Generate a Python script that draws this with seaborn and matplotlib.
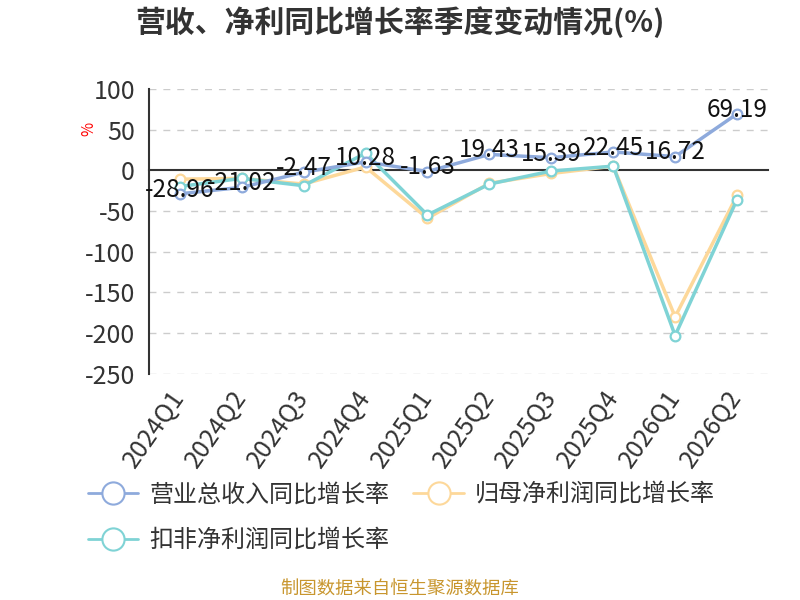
import numpy as np
import pandas as pd
import matplotlib
matplotlib.use("Agg")
import matplotlib.pyplot as plt
import seaborn as sns

QUARTERS = ["2024Q1", "2024Q2", "2024Q3", "2024Q4", "2025Q1",
            "2025Q2", "2025Q3", "2025Q4", "2026Q1", "2026Q2"]
REVENUE_YOY = [-28.96, -21.02, -2.47, 10.28, -1.63, 19.43, 15.39, 22.45, 16.72, 69.19]
NET_PROFIT_YOY = [-11, -10, -17, 4, -59, -16, -4, 5, -180, -31]
DEDUCTED_PROFIT_YOY = [-20, -10, -19, 21, -55, -17, -1, 5, -203, -36]

SERIES_NAMES = ["营业总收入同比增长率", "归母净利润同比增长率", "扣非净利润同比增长率"]
SERIES_COLORS = ["#8eaadc", "#fdd89a", "#7fd3d5"]
Y_TICKS = [100, 50, 0, -50, -100, -150, -200, -250]

sns.set_style("white")
plt.rcParams["font.family"] = ["Noto Sans CJK SC", "DejaVu Sans"]

df = pd.DataFrame({
    "pos": list(range(len(QUARTERS))) * 3,
    "value": REVENUE_YOY + NET_PROFIT_YOY + DEDUCTED_PROFIT_YOY,
    "series": np.repeat(SERIES_NAMES, len(QUARTERS)),
})

fig = plt.figure(figsize=(8, 6), dpi=100)
ax = fig.add_axes([0.186, 0.377, 0.774, 0.475])

# dashed grid (skip zero, the axis line sits there)
for y in Y_TICKS:
    if y != 0:
        ax.axhline(y, color="#cccccc", linestyle=(0, (5, 5)), linewidth=1, zorder=0)

palette = dict(zip(SERIES_NAMES, SERIES_COLORS))
draw_order = [SERIES_NAMES[1], SERIES_NAMES[2], SERIES_NAMES[0]]
for name in draw_order:
    sub = df[df["series"] == name]
    sns.lineplot(data=sub, x="pos", y="value", color=palette[name], linewidth=2.5,
                 marker="o", markersize=7, markerfacecolor="white",
                 markeredgecolor=palette[name], markeredgewidth=1.6,
                 ax=ax, legend=False, zorder=3)

for i, v in enumerate(REVENUE_YOY):
    ax.annotate(f"{v:.2f}", (i, v), xytext=(0, 3), textcoords="offset points",
                ha="center", va="center", fontsize=17.5, color="#111111", zorder=5)

ax.set_xlim(-0.5, len(QUARTERS) - 0.5)
ax.set_ylim(-250, 100)
ax.set_yticks(Y_TICKS)
ax.set_yticklabels([str(t) for t in Y_TICKS], fontsize=18, color="#333333")
ax.tick_params(axis="y", length=5, width=1.2, color="#333333", pad=5)

# x axis line at zero with boundary ticks, labels at the bottom
ax.spines["bottom"].set_position(("data", 0))
ax.spines["bottom"].set_color("#333333")
ax.spines["bottom"].set_linewidth(1.5)
ax.set_xticks(np.arange(-0.5, len(QUARTERS), 1.0))
ax.set_xticklabels([])
ax.tick_params(axis="x", length=5, width=1.2, color="#333333", direction="out")
for s in ["top", "right"]:
    ax.spines[s].set_visible(False)
ax.spines["left"].set_color("#333333")
ax.spines["left"].set_linewidth(1.5)

sec = ax.secondary_xaxis("bottom")
sec.set_xticks(range(len(QUARTERS)))
sec.set_xticklabels(QUARTERS, rotation=55, ha="right", va="center",
                    rotation_mode="anchor", fontsize=18, color="#333333")
sec.tick_params(length=0, pad=14)
sec.spines["bottom"].set_visible(False)

ax.set_xlabel("")
ax.set_ylabel("%", color="red", fontsize=11, rotation=90)
ax.yaxis.set_label_coords(-0.083, 0.86)

fig.text(0.5, 0.963, "营收、净利同比增长率季度变动情况(%)", ha="center", va="center",
         fontsize=21.5, fontweight="bold", color="#333333")

legend_order = [0, 2, 1]
handles = [plt.Line2D([0], [0], color=SERIES_COLORS[k], linewidth=2, marker="o",
                      markersize=16, markerfacecolor="white",
                      markeredgecolor=SERIES_COLORS[k], markeredgewidth=1.5)
           for k in legend_order]
fig.legend(handles, [SERIES_NAMES[k] for k in legend_order], loc="upper left",
           bbox_to_anchor=(0.11, 0.197), ncol=2, frameon=False, fontsize=17.3,
           handlelength=2.1, columnspacing=1.0, labelspacing=0.8,
           handletextpad=0.45, borderpad=0, borderaxespad=0,
           labelcolor="#333333")

fig.text(0.5, 0.017, "制图数据来自恒生聚源数据库", ha="center", va="center",
         fontsize=13.2, color="#c8962e")

fig.savefig("out.png", dpi=100)
